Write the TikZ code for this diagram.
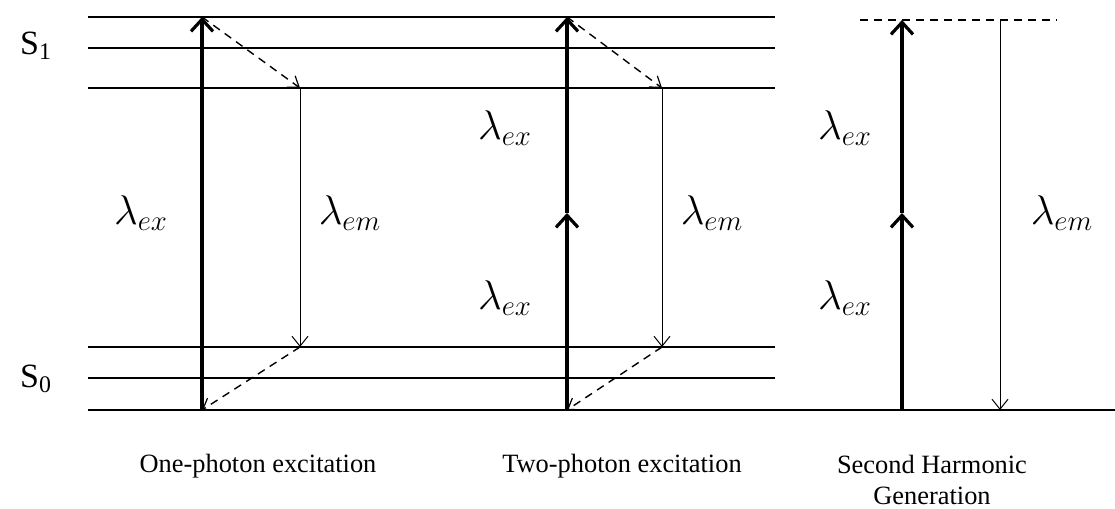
\documentclass[tikz,border=0pt]{standalone}
\usepackage{fontspec}
\setmainfont{Liberation Serif}
\usetikzlibrary{positioning,arrows.meta}

\begin{document}
\begin{tikzpicture}[x=0.5pt,y=-0.5pt,
  level/.style={line width=0.8pt},
  exarrow/.style={line width=2pt,-{Straight Barb[length=6pt,width=11pt,line width=1.6pt]}},
  emarrow/.style={line width=0.5pt,-{Straight Barb[length=5pt,width=8pt,line width=0.5pt]}},
  relax/.style={dash pattern=on 4pt off 3pt,line width=0.7pt,-{Straight Barb[length=5pt,width=7pt,line width=0.6pt]}},
  lab/.style={font=\fontsize{20}{24}\selectfont},
  caption/.style={font=\fontsize{13.2}{15.5}\selectfont,align=center}
]
\useasboundingbox (0,0) rectangle (1115,509);
% energy levels
\draw[level] (88,17) -- (775,17);
\draw[level] (88,48) -- (775,48);
\draw[line width=1.4pt] (88,88) -- (775,88);
\draw[level] (88,347) -- (775,347);
\draw[level] (88,378) -- (775,378);
\draw[level] (88,410) -- (1115,410);
\draw[dash pattern=on 4pt off 3pt,line width=0.7pt] (860,20) -- (1057,20);
\node[font=\fontsize{17}{20}\selectfont] (s1) at (36,46) {S\textsubscript{1}};
\node[font=\fontsize{17}{20}\selectfont] (s0) at (36,379) {S\textsubscript{0}};
% one-photon
\coordinate (a0) at (202,410);
\coordinate (a1) at (202,17);
\coordinate (b1) at (300,88);
\coordinate (b0) at (300,347);
\draw[exarrow] (a0) -- (a1);
\draw[relax] (a1) -- (b1);
\draw[emarrow] (b1) -- (b0);
\draw[relax] (b0) -- (a0);
\node[lab] (exa) at (141,213) {$\lambda_{ex}$};
\node[lab] (ema) at (350,213) {$\lambda_{em}$};
\node[caption] (capa) at (258,466) {One-photon excitation};
% two-photon
\coordinate (c0) at (567,410);
\coordinate (cm) at (567,213);
\coordinate (c1) at (567,17);
\coordinate (d1) at (662,88);
\coordinate (d0) at (662,347);
\draw[exarrow] (c0) -- (cm);
\draw[exarrow] (cm) -- (c1);
\draw[relax] (c1) -- (d1);
\draw[emarrow] (d1) -- (d0);
\draw[relax] (d0) -- (c0);
\node[lab] (exb1) at (505,128) {$\lambda_{ex}$};
\node[lab] (exb0) at (505,298) {$\lambda_{ex}$};
\node[lab] (emb) at (712,213) {$\lambda_{em}$};
\node[caption] (capb) at (622,466) {Two-photon excitation};
% second harmonic generation
\coordinate (e0) at (902,410);
\coordinate (em) at (902,213);
\coordinate (e1) at (902,20);
\coordinate (f1) at (1000,20);
\coordinate (f0) at (1000,410);
\draw[exarrow] (e0) -- (em);
\draw[exarrow] (em) -- (e1);
\draw[emarrow] (f1) -- (f0);
\node[lab] (exc1) at (845,128) {$\lambda_{ex}$};
\node[lab] (exc0) at (845,298) {$\lambda_{ex}$};
\node[lab] (emc) at (1062,213) {$\lambda_{em}$};
\node[caption] (capc) at (932,480) {Second Harmonic\\Generation};
\end{tikzpicture}
\end{document}
